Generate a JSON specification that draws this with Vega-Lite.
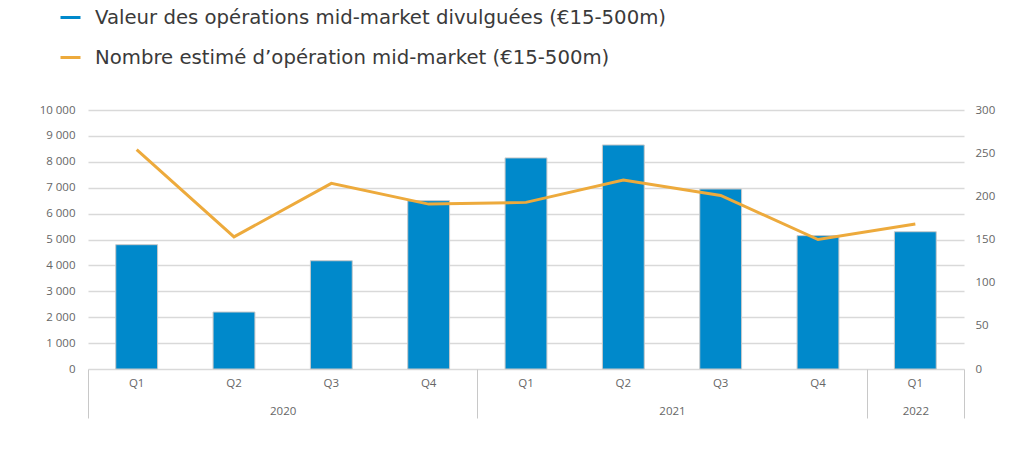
{
  "$schema": "https://vega.github.io/schema/vega-lite/v6.json",
  "autosize": "none",
  "width": 876,
  "height": 259,
  "padding": {"left": 88, "top": 110, "right": 60, "bottom": 87},
  "background": "white",
  "config": {
    "view": {"stroke": null},
    "font": "Open Sans",
    "axis": {"labelFont": "Open Sans", "labelColor": "#666666", "labelFontSize": 11.5}
  },
  "datasets": {
    "main": [
      {"period": "2020-Q1", "valeur": 4800, "nombre": 254},
      {"period": "2020-Q2", "valeur": 2200, "nombre": 153},
      {"period": "2020-Q3", "valeur": 4180, "nombre": 215},
      {"period": "2020-Q4", "valeur": 6500, "nombre": 191},
      {"period": "2021-Q1", "valeur": 8150, "nombre": 193},
      {"period": "2021-Q2", "valeur": 8650, "nombre": 219},
      {"period": "2021-Q3", "valeur": 6950, "nombre": 201},
      {"period": "2021-Q4", "valeur": 5150, "nombre": 150},
      {"period": "2022-Q1", "valeur": 5300, "nombre": 168}
    ],
    "years": [
      {"pos": 0},
      {"pos": 9}
    ]
  },
  "resolve": {"scale": {"x": "independent", "y": "independent"}, "axis": {"x": "independent", "y": "independent"}},
  "layer": [
    {
      "data": {"name": "main"},
      "mark": {"type": "bar", "stroke": "#c9c9c9", "strokeWidth": 1},
      "encoding": {
        "x": {
          "field": "period", "type": "nominal", "sort": null,
          "scale": {"paddingInner": 0.57, "paddingOuter": 0.285},
          "axis": {"title": null, "labelAngle": 0, "ticks": false, "domain": false, "grid": false, "labelPadding": 8,
                   "labelExpr": "split(datum.label, '-')[1]"}
        },
        "y": {
          "field": "valeur", "type": "quantitative",
          "scale": {"domain": [0, 10000], "nice": false},
          "axis": {"title": null, "orient": "left", "values": [0,1000,2000,3000,4000,5000,6000,7000,8000,9000,10000],
                   "domain": false, "ticks": false, "labelPadding": 13,
                   "grid": true, "gridColor": "#d9d9d9", "gridWidth": 1.5,
                   "labelExpr": "replace(format(datum.value, ','), ',', ' ')"}
        },
        "color": {
          "datum": "Valeur des opérations mid-market divulguées (€15-500m)",
          "type": "nominal",
          "scale": {
            "domain": ["Valeur des opérations mid-market divulguées (€15-500m)", "Nombre estimé d’opération mid-market (€15-500m)"],
            "range": ["#0089CB", "#EDAA3C"]
          },
          "legend": {
            "title": null, "orient": "none", "legendX": -29, "legendY": -104,
            "symbolType": "stroke", "symbolSize": 400, "symbolStrokeWidth": 3,
            "labelFont": "DejaVu Sans", "labelFontSize": 19.7, "labelColor": "#3a3a3a",
            "labelLimit": 800, "rowPadding": 18, "labelOffset": 13, "padding": 0
          }
        }
      }
    },
    {
      "data": {"name": "main"},
      "mark": {"type": "line", "strokeWidth": 3},
      "encoding": {
        "x": {
          "field": "period", "type": "nominal", "sort": null,
          "scale": {"type": "band", "paddingInner": 0.57, "paddingOuter": 0.285},
          "axis": null
        },
        "y": {
          "field": "nombre", "type": "quantitative",
          "scale": {"domain": [0, 300], "nice": false},
          "axis": {"title": null, "orient": "right", "values": [0,50,100,150,200,250,300],
                   "domain": false, "ticks": false, "grid": false, "labelPadding": 11}
        },
        "color": {"datum": "Nombre estimé d’opération mid-market (€15-500m)", "type": "nominal"}
      }
    },
    {
      "data": {"name": "years"},
      "mark": {"type": "point", "opacity": 0},
      "encoding": {
        "x": {
          "field": "pos", "type": "quantitative",
          "scale": {"domain": [0, 9], "nice": false, "zero": false},
          "axis": {"title": null, "orient": "bottom", "values": [0, 2, 4, 6, 8, 8.5, 9],
                   "domain": false, "grid": false, "tickSize": 49, "tickColor": "#c8c8c8", "tickWidth": 1,
                   "tickOpacity": {"condition": {"test": "datum.value == 2 || datum.value == 6 || datum.value == 8.5", "value": 0}, "value": 1},
                   "labelPadding": -13, "labelOverlap": false, "labelBound": false, "labelFlush": false,
                   "labelExpr": "datum.value == 2 ? '2020' : datum.value == 6 ? '2021' : datum.value == 8.5 ? '2022' : ''"}
        }
      }
    }
  ]
}
